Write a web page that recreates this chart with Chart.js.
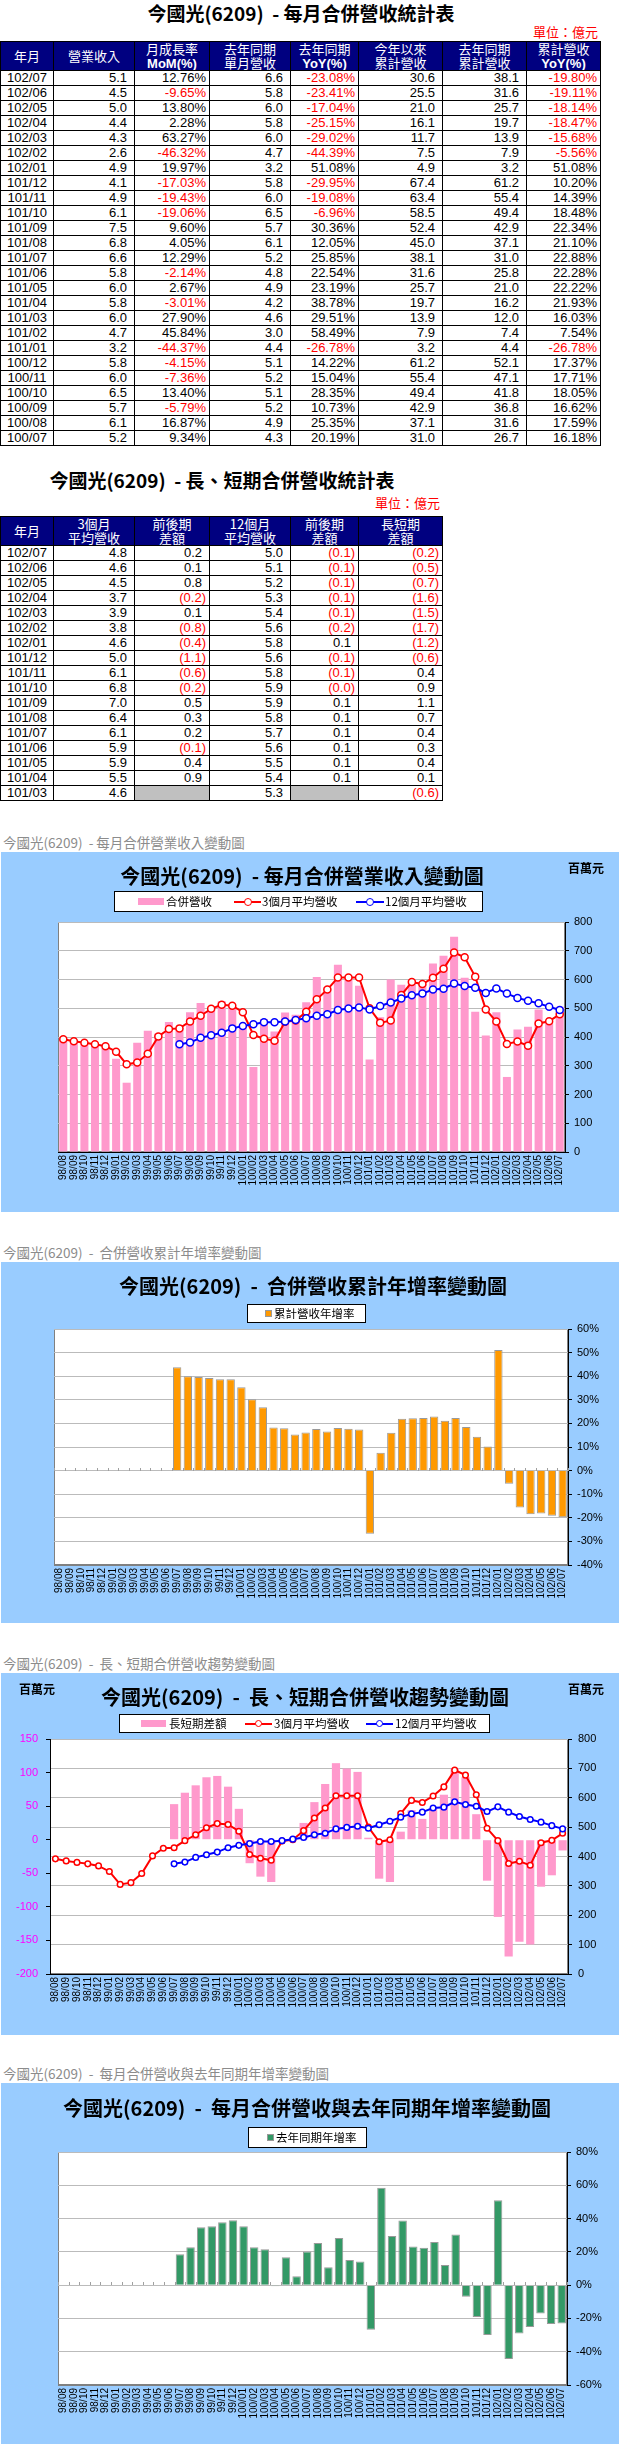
<!DOCTYPE html>
<html>
<head>
<meta charset="utf-8">
<script src="https://cdn.jsdelivr.net/npm/chart.js@4.4.0/dist/chart.umd.min.js"></script>
<style>
body { margin: 0; background: #fff; width: 619px; height: 2444px; overflow: hidden; position: relative;
       font-family: "Noto Sans CJK TC", "Liberation Sans", sans-serif; }
.cell { position: absolute; box-sizing: border-box; border-right: 1px solid #000; border-bottom: 1px solid #000;
        font: 13px "Liberation Sans", sans-serif; line-height: 14px; white-space: nowrap; overflow: hidden; }
.hd { background: #000080; color: #fff; font-family: "Noto Sans CJK TC", sans-serif; font-size: 13px;
      display: flex; flex-direction: column; justify-content: center; align-items: center; line-height: 14px; }
.hd b { font-family: "Liberation Sans", sans-serif; font-weight: bold; }
.blue { position: absolute; left: 1px; width: 618px; background: #99CCFF; }
.lg { position: absolute; background: #fff; border: 1px solid #000; box-sizing: border-box; }
canvas { position: absolute; left: 0; }
</style>
</head>
<body>
<script>
// ---- table data (億元) ----
const t1Month = ['102/07','102/06','102/05','102/04','102/03','102/02','102/01','101/12','101/11','101/10','101/09','101/08','101/07',
                 '101/06','101/05','101/04','101/03','101/02','101/01','100/12','100/11','100/10','100/09','100/08','100/07'];
const t1Rev = [5.1,4.5,5.0,4.4,4.3,2.6,4.9,4.1,4.9,6.1,7.5,6.8,6.6,5.8,6.0,5.8,6.0,4.7,3.2,5.8,6.0,6.5,5.7,6.1,5.2];
const t1Mom = [12.76,-9.65,13.80,2.28,63.27,-46.32,19.97,-17.03,-19.43,-19.06,9.60,4.05,12.29,-2.14,2.67,-3.01,27.90,45.84,-44.37,-4.15,-7.36,13.40,-5.79,16.87,9.34];
const t1LastRev = [6.6,5.8,6.0,5.8,6.0,4.7,3.2,5.8,6.0,6.5,5.7,6.1,5.2,4.8,4.9,4.2,4.6,3.0,4.4,5.1,5.2,5.1,5.2,4.9,4.3];
const t1Yoy = [-23.08,-23.41,-17.04,-25.15,-29.02,-44.39,51.08,-29.95,-19.08,-6.96,30.36,12.05,25.85,22.54,23.19,38.78,29.51,58.49,-26.78,14.22,15.04,28.35,10.73,25.35,20.19];
const t1Cum = [30.6,25.5,21.0,16.1,11.7,7.5,4.9,67.4,63.4,58.5,52.4,45.0,38.1,31.6,25.7,19.7,13.9,7.9,3.2,61.2,55.4,49.4,42.9,37.1,31.0];
const t1LastCum = [38.1,31.6,25.7,19.7,13.9,7.9,3.2,61.2,55.4,49.4,42.9,37.1,31.0,25.8,21.0,16.2,12.0,7.4,4.4,52.1,47.1,41.8,36.8,31.6,26.7];
const t1CumYoy = [-19.80,-19.11,-18.14,-18.47,-15.68,-5.56,51.08,10.20,14.39,18.48,22.34,21.10,22.88,22.28,22.22,21.93,16.03,7.54,-26.78,17.37,17.71,18.05,16.62,17.59,16.18];

const t2Month = t1Month.slice(0, 17);
const t2Avg3 = [4.8,4.6,4.5,3.7,3.9,3.8,4.6,5.0,6.1,6.8,7.0,6.4,6.1,5.9,5.9,5.5,4.6];
const t2Diff3 = [0.2,0.1,0.8,-0.2,0.1,-0.8,-0.4,-1.1,-0.6,-0.2,0.5,0.3,0.2,-0.1,0.4,0.9,null];
const t2Avg12 = [5.0,5.1,5.2,5.3,5.4,5.6,5.8,5.6,5.8,5.9,5.9,5.8,5.7,5.6,5.5,5.4,5.3];
const t2Diff12 = [-0.1,-0.1,-0.1,-0.1,-0.1,-0.2,0.1,-0.1,-0.1,-0.0,0.1,0.1,0.1,0.1,0.1,0.1,null];
const t2LongShort = [-0.2,-0.5,-0.7,-1.6,-1.5,-1.7,-1.2,-0.6,0.4,0.9,1.1,0.7,0.4,0.3,0.4,0.1,-0.6];

// ---- chart data (百萬元 / %) ----
const months = ['98/08','98/09','98/10','98/11','98/12',
  '99/01','99/02','99/03','99/04','99/05','99/06','99/07','99/08','99/09','99/10','99/11','99/12',
  '100/01','100/02','100/03','100/04','100/05','100/06','100/07','100/08','100/09','100/10','100/11','100/12',
  '101/01','101/02','101/03','101/04','101/05','101/06','101/07','101/08','101/09','101/10','101/11','101/12',
  '102/01','102/02','102/03','102/04','102/05','102/06','102/07'];
const revenue = [395,384,374,378,363,
  324,241,380,422,412,452,434,486,518,507,524,506,
  439,296,463,419,485,477,521,609,574,651,603,578,
  322,469,600,582,597,584,656,683,749,606,488,405,
  486,261,426,436,496,448,505];
const avg3 = [392,385,380,375,368,
  349,305,311,342,402,428,430,454,474,498,512,509,
  486,407,394,387,453,457,488,531,565,607,607,607,
  500,450,457,546,591,584,606,637,694,677,610,496,
  454,376,384,370,447,455,479];
const avg12 = [null,null,null,null,null,
  null,null,null,null,null,null,375,381,397,406,415,430,
  438,444,451,451,454,459,465,474,479,494,499,503,
  496,508,520,534,545,551,565,568,586,577,571,553,
  569,551,536,526,517,505,494];
const longShort = [null,null,null,null,null,
  null,null,null,null,null,null,53,70,81,93,95,79,
  46,-35,-55,-63,-1,-2,25,56,83,114,106,101,
  3,-58,-63,12,44,31,46,67,106,93,38,-61,
  -115,-174,-152,-156,-70,-53,-16];
const cumYoy = [null,null,null,null,null,
  null,null,null,null,null,null,43.8,40.0,39.7,39.2,38.7,38.7,
  35.3,30.2,26.8,18.3,17.9,15.3,16.18,17.59,16.62,18.05,17.71,17.37,
  -26.78,7.54,16.03,21.93,22.22,22.28,22.88,21.10,22.34,18.48,14.39,10.20,
  51.08,-5.56,-15.68,-18.47,-18.14,-19.11,-19.80];
const yoy = [null,null,null,null,null,
  null,null,null,null,null,null,18.6,22.8,34.8,35.4,37.8,39.0,
  35.4,22.8,21.6,-0.7,16.8,5.4,20.19,25.35,10.73,28.35,15.04,14.22,
  -26.78,58.49,29.51,38.78,23.19,22.54,25.85,12.05,30.36,-6.96,-19.08,-29.95,
  51.08,-44.39,-29.02,-25.15,-17.04,-23.41,-23.08];

// ---- helpers ----
function el(css, html) {
  const e = document.createElement('div');
  e.style.cssText = 'position:absolute;white-space:pre;' + css;
  if (html != null) e.innerHTML = html;
  document.body.appendChild(e);
  return e;
}
function centerText(text, cx, cy, size, css) {
  el(`left:${cx}px;top:${cy - size}px;height:${size * 2}px;line-height:${size * 2}px;transform:translateX(-50%);font-size:${size}px;${css || ''}`, text);
}
function leftText(text, x, cy, size, css) {
  el(`left:${x}px;top:${cy - size}px;height:${size * 2}px;line-height:${size * 2}px;font-size:${size}px;${css || ''}`, text);
}
function rightText(text, rx, cy, size, css) {
  el(`right:${619 - rx}px;top:${cy - size}px;height:${size * 2}px;line-height:${size * 2}px;font-size:${size}px;${css || ''}`, text);
}

function pct(v) { return { t: v.toFixed(2) + '%', red: v < 0, pad: 3 }; }
function num(v) { return { t: v.toFixed(1), red: false, pad: 7 }; }
function acc(v) {
  if (v === null) return { gray: true };
  const neg = v < 0 || Object.is(v, -0);
  return neg ? { t: '(' + Math.abs(v).toFixed(1) + ')', red: true, pad: 3 } : { t: v.toFixed(1), red: false, pad: 7 };
}

function buildTable(top, bounds, headers, rows) {
  headers.forEach((h, i) => {
    const c = el(`left:${bounds[i]}px;top:${top}px;width:${bounds[i + 1] - bounds[i]}px;height:30px;` +
      (i === 0 ? 'border-left:1px solid #000;' : '') + 'border-top:1px solid #000;white-space:nowrap;');
    c.className = 'cell hd';
    c.innerHTML = h.map(s => `<div>${s}</div>`).join('');
  });
  rows.forEach((r, j) => {
    const y = top + 30 + j * 15;
    r.forEach((v, i) => {
      const c = el(`left:${bounds[i]}px;top:${y}px;width:${bounds[i + 1] - bounds[i]}px;height:15px;` +
        (i === 0 ? 'border-left:1px solid #000;text-align:center;' : 'text-align:right;'));
      c.className = 'cell';
      if (typeof v === 'string') { c.textContent = v; return; }
      if (v.gray) { c.style.background = '#C0C0C0'; return; }
      c.textContent = v.t;
      c.style.paddingRight = v.pad + 'px';
      c.style.color = v.red ? '#FF0000' : '#000';
    });
  });
}

// ---- table 1 ----
centerText('今國光(6209)  - 每月合併營收統計表', 301, 13, 19, 'font-weight:bold;');
rightText('單位：億元', 598, 32, 13, 'color:#FF0000;');
buildTable(41, [0, 54, 135, 210, 291, 359, 443, 527, 601],
  [['年月'], ['營業收入'], ['月成長率', '<b>MoM(%)</b>'], ['去年同期', '單月營收'], ['去年同期', '<b>YoY(%)</b>'],
   ['今年以來', '累計營收'], ['去年同期', '累計營收'], ['累計營收', '<b>YoY(%)</b>']],
  t1Month.map((m, i) => [m, num(t1Rev[i]), pct(t1Mom[i]), num(t1LastRev[i]), pct(t1Yoy[i]),
                         num(t1Cum[i]), num(t1LastCum[i]), pct(t1CumYoy[i])]));

// ---- table 2 ----
centerText('今國光(6209)  - 長、短期合併營收統計表', 222, 480, 19, 'font-weight:bold;');
rightText('單位：億元', 440, 503, 13, 'color:#FF0000;');
buildTable(516, [0, 54, 135, 210, 291, 359, 443],
  [['年月'], ['3個月', '平均營收'], ['前後期', '差額'], ['12個月', '平均營收'], ['前後期', '差額'], ['長短期', '差額']],
  t2Month.map((m, i) => [m, num(t2Avg3[i]), acc(t2Diff3[i]), num(t2Avg12[i]), acc(t2Diff12[i]), acc(t2LongShort[i])]));

// ---- chart scaffolding ----
const plotFrame = {
  id: 'plotFrame',
  beforeDraw(chart, args, opts) {
    const { ctx, chartArea: a } = chart;
    ctx.save();
    ctx.fillStyle = '#fff';
    ctx.fillRect(a.left, a.top, a.right - a.left, a.bottom - a.top);
    ctx.strokeStyle = opts.color || '#808080';
    ctx.lineWidth = 1;
    ctx.strokeRect(Math.round(a.left) + 0.5, Math.round(a.top) + 0.5, Math.round(a.right - a.left) - 1, Math.round(a.bottom - a.top) - 1);
    ctx.restore();
  }
};
const zeroTicks = {
  id: 'zeroTicks',
  beforeDatasetsDraw(chart) {
    const { ctx } = chart;
    const xs = chart.scales.x, ys = chart.scales.y;
    const y0 = Math.round(ys.getPixelForValue(0));
    const n = chart.data.labels.length;
    ctx.save();
    ctx.strokeStyle = '#A0A0A0';
    ctx.lineWidth = 1;
    ctx.beginPath();
    for (let i = 0; i <= n; i++) {
      const px = Math.round(xs.left + i * xs.width / n) + 0.5;
      ctx.moveTo(px, y0 - 3);
      ctx.lineTo(px, y0);
    }
    ctx.stroke();
    ctx.restore();
  }
};

function makeCanvas(top, h) {
  const blue = document.createElement('div');
  blue.className = 'blue';
  blue.style.top = top + 'px';
  blue.style.height = h + 'px';
  document.body.appendChild(blue);
  const cv = document.createElement('canvas');
  cv.width = 619; cv.height = h;
  cv.style.top = top + 'px';
  cv.style.width = '619px'; cv.style.height = h + 'px';
  document.body.appendChild(cv);
  return cv.getContext('2d');
}
function xAxis(h, borderColor) {
  return {
    grid: { display: false, drawTicks: false },
    border: { color: borderColor, width: 1 },
    ticks: { autoSkip: false, minRotation: 90, maxRotation: 90, padding: 3, color: '#000',
             font: { family: 'Liberation Sans', size: 10 } },
    afterFit: s => { s.height = h; }
  };
}
function yAxis(pos, min, max, step, w, opts) {
  opts = opts || {};
  return {
    position: pos, min: min, max: max,
    ticks: { stepSize: step, padding: opts.pad || 5, color: opts.color || '#000',
             font: { family: 'Liberation Sans', size: 11 }, callback: opts.cb || (v => v) },
    grid: { color: '#BBBBBB', tickLength: 4, tickColor: '#000', drawOnChartArea: opts.grid !== false },
    border: { color: '#000', width: 1 },
    afterFit: s => { s.width = w; }
  };
}
function lineSet(label, data, color, r, order, axis) {
  return { type: 'line', label: label, data: data, borderColor: color, borderWidth: 2, backgroundColor: color,
           pointRadius: r, pointBorderWidth: 1.5, pointBackgroundColor: '#fff', pointBorderColor: color,
           tension: 0, order: order, yAxisID: axis || 'y' };
}
function caption(text, cy) { leftText(text, 3, cy, 13.5, 'color:#8C8C8C;'); }
function chartTitle(text, cx, cy) { centerText(text, cx, cy, 20, 'font-weight:bold;z-index:2;'); }
function unitLabel(x, cy) { leftText('百萬元', x, cy, 12, 'font-weight:bold;z-index:2;'); }
function legendBox(x1, y1, x2, y2) {
  const b = el(`left:${x1}px;top:${y1}px;width:${x2 - x1}px;height:${y2 - y1}px;z-index:2;`);
  b.className = 'lg';
}
function lgRect(x, w, cy, h, color, border) {
  el(`left:${x}px;top:${cy - h / 2}px;width:${w}px;height:${h}px;background:${color};box-sizing:border-box;z-index:3;` +
     (border ? `border:1px solid ${border};` : ''));
}
function lgLine(x, w, cy, color, r) {
  el(`left:${x}px;top:${cy - 1}px;width:${w}px;height:2px;background:${color};z-index:3;`);
  el(`left:${x + w / 2 - r - 0.5}px;top:${cy - r - 0.5}px;width:${2 * r - 1}px;height:${2 * r - 1}px;border:1.5px solid ${color};` +
     `border-radius:50%;background:#fff;z-index:4;`);
}
function lgText(text, x, cy) { leftText(text, x, cy, 11.5, 'z-index:3;'); }

// ---- chart 1: monthly revenue ----
caption('今國光(6209)  - 每月合併營業收入變動圖', 842);
const ctx1 = makeCanvas(852, 360);
chartTitle('今國光(6209)  - 每月合併營業收入變動圖', 302, 876);
unitLabel(568, 868);
legendBox(114, 891, 483, 912);
lgRect(138, 26, 901.5, 7, '#FF99CC');
lgText('合併營收', 166, 901.5);
lgLine(234, 27, 901.5, '#FF0000', 3.5);
lgText('3個月平均營收', 262, 901.5);
lgLine(356, 28, 901.5, '#0000FF', 3.5);
lgText('12個月平均營收', 385, 901.5);

new Chart(ctx1, {
  type: 'bar',
  data: {
    labels: months,
    datasets: [
      lineSet('12個月平均營收', avg12, '#0000FF', 3.5, 0),
      lineSet('3個月平均營收', avg3, '#FF0000', 3.5, 1),
      { label: '合併營收', data: revenue, backgroundColor: '#FF99CC', borderWidth: 0,
        barPercentage: 0.76, categoryPercentage: 1, order: 2 }
    ]
  },
  options: {
    responsive: false, animation: false,
    layout: { padding: { top: 70, left: 58, right: 0, bottom: 0 } },
    plugins: { legend: { display: false }, tooltip: { enabled: false }, plotFrame: {} },
    scales: { x: xAxis(60, '#000'), y: yAxis('right', 0, 800, 100, 54, { pad: 5 }) }
  },
  plugins: [plotFrame]
});

// ---- chart 2: cumulative YoY ----
caption('今國光(6209)  -  合併營收累計年增率變動圖', 1252);
const ctx2 = makeCanvas(1262, 361);
chartTitle('今國光(6209)  -  合併營收累計年增率變動圖', 313, 1286);
legendBox(247, 1304, 366, 1323);
lgRect(265, 7, 1313.5, 7, '#FF9900', '#999');
lgText('累計營收年增率', 274, 1313.5);

new Chart(ctx2, {
  type: 'bar',
  data: {
    labels: months,
    datasets: [{ label: '累計營收年增率', data: cumYoy, backgroundColor: '#FF9900', borderColor: '#999999',
                 borderWidth: 1, barPercentage: 0.78, categoryPercentage: 1 }]
  },
  options: {
    responsive: false, animation: false,
    layout: { padding: { top: 67, left: 54, right: 0, bottom: 0 } },
    plugins: { legend: { display: false }, tooltip: { enabled: false }, plotFrame: {} },
    scales: { x: xAxis(58, '#808080'), y: yAxis('right', -40, 60, 10, 51, { pad: 5, cb: v => v + '%' }) }
  },
  plugins: [plotFrame, zeroTicks]
});

// ---- chart 3: long/short trend ----
caption('今國光(6209)  -  長、短期合併營收趨勢變動圖', 1663);
const ctx3 = makeCanvas(1673, 362);
chartTitle('今國光(6209)  -  長、短期合併營收趨勢變動圖', 305, 1697);
unitLabel(19, 1689);
unitLabel(568, 1689);
legendBox(119, 1714, 490, 1733);
lgRect(141, 25, 1723.5, 7, '#FF99CC');
lgText('長短期差額', 169, 1723.5);
lgLine(245, 27, 1723.5, '#FF0000', 3);
lgText('3個月平均營收', 274, 1723.5);
lgLine(366, 27, 1723.5, '#0000FF', 3);
lgText('12個月平均營收', 395, 1723.5);

new Chart(ctx3, {
  type: 'bar',
  data: {
    labels: months,
    datasets: [
      lineSet('12個月平均營收', avg12, '#0000FF', 2.8, 0),
      lineSet('3個月平均營收', avg3, '#FF0000', 2.8, 1),
      { label: '長短期差額', data: longShort, backgroundColor: '#FF99CC', borderWidth: 0,
        barPercentage: 0.76, categoryPercentage: 1, order: 2, yAxisID: 'yL' }
    ]
  },
  options: {
    responsive: false, animation: false,
    layout: { padding: { top: 66, left: 0, right: 0, bottom: 0 } },
    plugins: { legend: { display: false }, tooltip: { enabled: false }, plotFrame: {} },
    scales: {
      x: xAxis(61, '#000'),
      yL: yAxis('left', -200, 150, 50, 50, { pad: 8, color: '#FF00FF', grid: false }),
      y: yAxis('right', 0, 800, 100, 51, { pad: 6 })
    }
  },
  plugins: [plotFrame]
});

// ---- chart 4: monthly YoY ----
caption('今國光(6209)  -  每月合併營收與去年同期年增率變動圖', 2073);
const ctx4 = makeCanvas(2083, 361);
chartTitle('今國光(6209)  -  每月合併營收與去年同期年增率變動圖', 307, 2108);
legendBox(248, 2127, 367, 2148);
lgRect(267, 7, 2137.5, 7, '#339966', '#999');
lgText('去年同期年增率', 276, 2137.5);

new Chart(ctx4, {
  type: 'bar',
  data: {
    labels: months,
    datasets: [{ label: '去年同期年增率', data: yoy, backgroundColor: '#339966', borderColor: '#999999',
                 borderWidth: 1, barPercentage: 0.8, categoryPercentage: 1 }]
  },
  options: {
    responsive: false, animation: false,
    layout: { padding: { top: 69, left: 58, right: 0, bottom: 0 } },
    plugins: { legend: { display: false }, tooltip: { enabled: false }, plotFrame: {} },
    scales: { x: xAxis(59, '#808080'), y: yAxis('right', -60, 80, 20, 52, { pad: 5, cb: v => v + '%' }) }
  },
  plugins: [plotFrame, zeroTicks]
});
</script>
</body>
</html>
